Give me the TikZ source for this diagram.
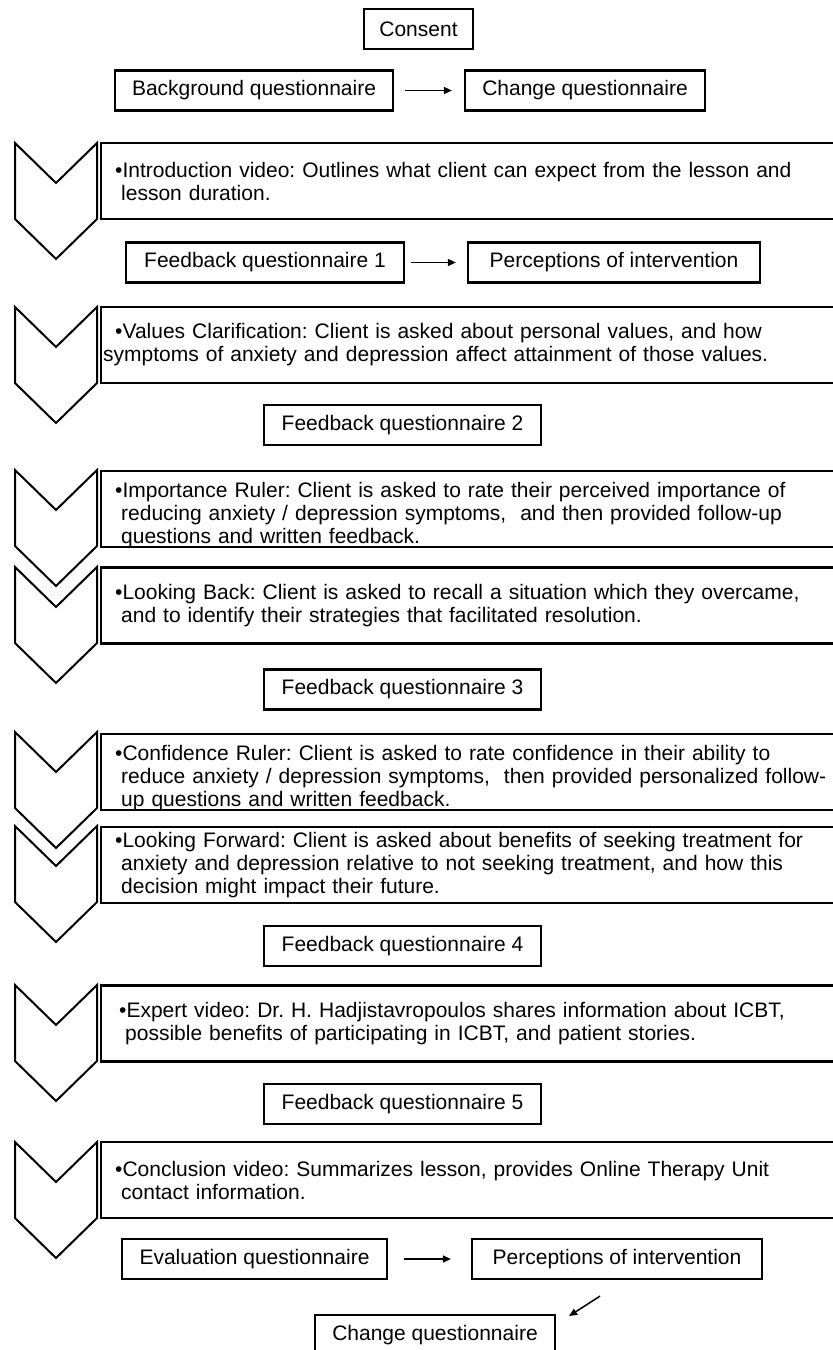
\documentclass[tikz,border=0pt]{standalone}
\usepackage{fontspec}
\setmainfont{Liberation Sans}
\usetikzlibrary{arrows.meta}
\frenchspacing
\newcommand{\contline}{\hspace*{6pt}}
\tikzset{
  qbox/.style={draw=black,line width=2.2pt,minimum height=40pt,inner sep=0pt},
  lesson/.style={draw=black,line width=2.4pt,anchor=west,text width=760pt,
    inner xsep=14pt,inner ysep=0pt,minimum height=76pt,align=left},
  tall lesson/.style={lesson,text depth=39pt},
  chevron/.style={draw=black,line width=2pt,line join=miter},
  flow/.style={-{Triangle[length=8pt,width=7pt]},line width=1.5pt,
    shorten <=11pt,shorten >=12pt}
}

\begin{document}
\begin{tikzpicture}[x=1pt,y=-1pt,font=\fontsize{21}{23}\selectfont]
  \useasboundingbox (0,0) rectangle (833,1350);
  \foreach \t in {143,307,470,567,732,826,985,1142}
    \draw[chevron] (15,\t) -- ++(41,40) -- ++(41,-40) -- ++(0,76)
      -- ++(-41,40) -- ++(-41,-40) -- cycle;

  \node[qbox,minimum width=109pt] (consent) at (418.5,29) {Consent};
  \node[qbox,minimum width=278pt] (bgq) at (254,90.5) {Background questionnaire};
  \node[qbox,minimum width=240pt] (chq1) at (585,90.5) {Change questionnaire};

  \node[lesson] (intro) at (100,181)
    {•Introduction video: Outlines what client can expect from the lesson and\\
     \contline lesson duration.};

  \node[qbox,minimum width=278pt] (fq1) at (265,262.5) {Feedback questionnaire 1};
  \node[qbox,minimum width=292pt] (perc1) at (614,262.5) {Perceptions of intervention};

  \node[lesson] (values) at (100,345)
    {•Values Clarification: Client is asked about personal values, and how\\
     \hspace*{-12pt}symptoms of anxiety and depression affect attainment of those values.};

  \node[qbox,minimum width=277pt] (fq2) at (402.5,425) {Feedback questionnaire 2};

  \node[tall lesson] (importance) at (100,509)
    {•Importance Ruler: Client is asked to rate their perceived importance of\\
     \contline reducing anxiety / depression symptoms,~ and then provided follow-up\\
     \contline questions and written feedback.};
  \node[lesson] (lookback) at (100,605.5)
    {•Looking Back: Client is asked to recall a situation which they overcame,\\
     \contline and to identify their strategies that facilitated resolution.};

  \node[qbox,minimum width=277pt] (fq3) at (402.5,689.5) {Feedback questionnaire 3};

  \node[tall lesson] (confidence) at (100,772)
    {•Confidence Ruler: Client is asked to rate confidence in their ability to\\
     \contline reduce anxiety / depression symptoms,~ then provided personalized follow-\\
     \contline up questions and written feedback.};
  \node[lesson] (lookforward) at (100,865)
    {•Looking Forward: Client is asked about benefits of seeking treatment for\\
     \contline anxiety and depression relative to not seeking treatment, and how this\\
     \contline decision might impact their future.};

  \node[qbox,minimum width=277pt] (fq4) at (402.5,946) {Feedback questionnaire 4};

  \node[lesson] (expert) at (100,1023.5)
    {\hspace*{4pt}•Expert video: Dr. H. Hadjistavropoulos shares information about ICBT,\\
     \hspace*{10pt}possible benefits of participating in ICBT, and patient stories.};

  \node[qbox,minimum width=277pt] (fq5) at (402.5,1104) {Feedback questionnaire 5};

  \node[lesson] (conclusion) at (100,1180)
    {•Conclusion video: Summarizes lesson, provides Online Therapy Unit\\
     \contline contact information.};

  \node[qbox,minimum width=265pt] (evq) at (254.5,1259) {Evaluation questionnaire};
  \node[qbox,minimum width=290pt] (perc2) at (617,1259) {Perceptions of intervention};
  \node[qbox,minimum width=240pt,anchor=north] (chq2) at (435,1314) {Change questionnaire};

  \draw[flow] (bgq) -- (chq1);
  \draw[flow,shorten <=6pt,shorten >=11pt] (fq1) -- (perc1);
  \draw[flow,shorten <=16pt,shorten >=20pt] (evq) -- (perc2);
  \draw[flow,shorten <=0pt,shorten >=0pt] ([xshift=-17pt,yshift=-16pt]perc2.south)
    -- ([xshift=13pt,yshift=-2pt]chq2.north east);
\end{tikzpicture}
\end{document}
